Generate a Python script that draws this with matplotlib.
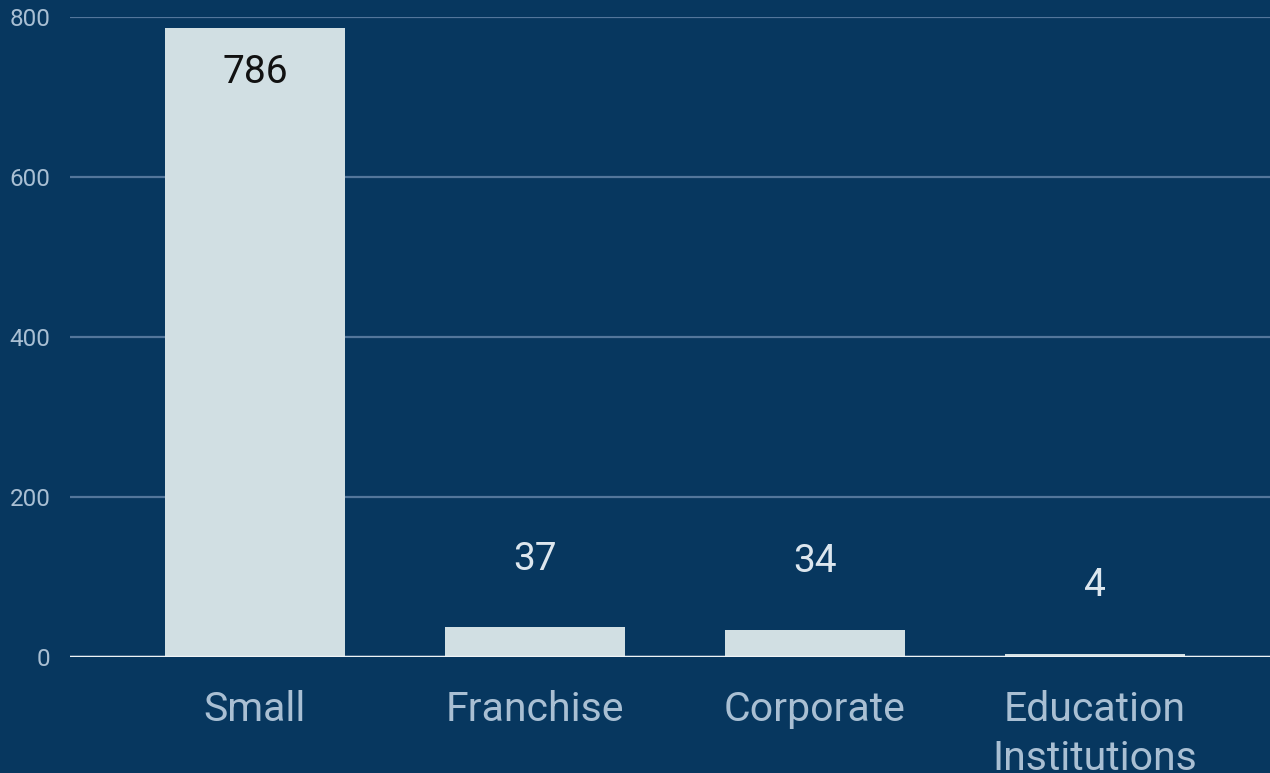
import matplotlib
matplotlib.use('Agg')
import matplotlib.pyplot as plt

# business types and counts
categories = ['Small', 'Franchise', 'Corporate', 'Education\nInstitutions']
counts = [786, 37, 34, 4]
y_ticks = [0, 200, 400, 600, 800]

bg = '#07375f'
bar_color = '#d1dfe3'
label_color = '#a9bfd3'

plt.rcParams['font.family'] = ['Roboto', 'DejaVu Sans']

fig = plt.figure(figsize=(12.7, 7.73), dpi=100)
fig.patch.set_facecolor(bg)
ax = fig.add_axes([70 / 1270, 116 / 773, 1200 / 1270, 640 / 773])
ax.set_facecolor(bg)

x = list(range(len(categories)))
bars = ax.bar(x, counts, width=0.643, color=bar_color, zorder=3)

# value labels: inside the tall bar, above the short ones
for xi, v in zip(x, counts):
    if v > 400:
        ax.text(xi, v - 55, str(v), ha='center', va='center',
                fontsize=28, color='#111111', zorder=4)
    else:
        ax.text(xi, v + 85, str(v), ha='center', va='center',
                fontsize=28, color='#dce6ee', zorder=4)

ax.set_xlim(-0.66, 3.625)
ax.set_ylim(0, 800)
ax.set_yticks(y_ticks)
ax.set_yticklabels([str(t) for t in y_ticks])
ax.set_xticks(x)
ax.set_xticklabels(categories)

ax.grid(axis='y', color='#53769b', linewidth=1.6, zorder=1)
ax.axhline(0, color='#eef3f6', linewidth=2.5, zorder=5)

for s in ax.spines.values():
    s.set_visible(False)
ax.tick_params(axis='y', length=0, pad=14, labelsize=17.5, labelcolor=label_color)
ax.tick_params(axis='x', length=0, pad=24, labelsize=29.5, labelcolor=label_color)
for lbl in ax.get_xticklabels():
    lbl.set_linespacing(1.3)

fig.savefig('out.png', dpi=100, facecolor=bg)
